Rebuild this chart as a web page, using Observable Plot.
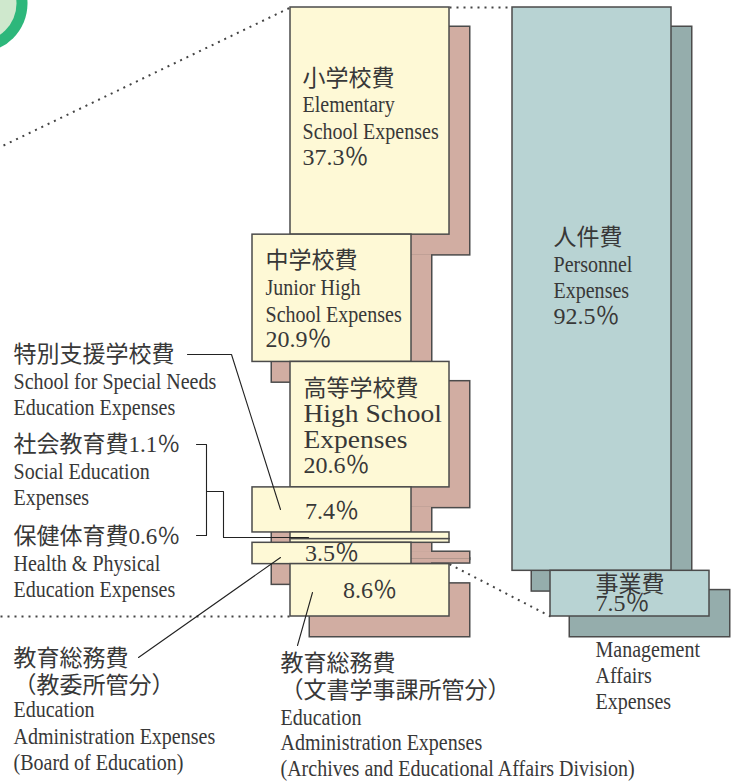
<!DOCTYPE html>
<html>
<head>
<meta charset="utf-8">
<script src="https://cdn.jsdelivr.net/npm/d3@7"></script>
<script src="https://cdn.jsdelivr.net/npm/@observablehq/plot@0.6"></script>
<style>html,body{margin:0;padding:0;background:#fff;overflow:hidden}</style>
</head>
<body>
<div id="chart"></div>
<script>
// ---------- data ----------
const categoriesJa = ["小学校費", "中学校費", "高等学校費", "特別支援学校費", "社会教育費", "保健体育費", "教育総務費\n（教委所管分）", "教育総務費\n（文書学事課所管分）"];
const categoriesEn = [
  "Elementary\nSchool Expenses",
  "Junior High\nSchool Expenses",
  "High School\nExpenses",
  "School for Special Needs\nEducation Expenses",
  "Social Education\nExpenses",
  "Health & Physical\nEducation Expenses",
  "Education\nAdministration Expenses\n(Board of Education)",
  "Education\nAdministration Expenses\n(Archives and Educational Affairs Division)"
];
const shares = [37.3, 20.9, 20.6, 7.4, 1.1, 0.6, 3.5, 8.6];
const natureJa = ["人件費", "事業費"];
const natureEn = ["Personnel\nExpenses", "Management\nAffairs\nExpenses"];
const natureShares = [92.5, 7.5];

// ---------- layout ----------
const W = 738, H = 783;
const TOP = 7, BOTTOM = 616;
const pxPerPct = (BOTTOM - TOP) / 100;
const py = px => (px - TOP) / pxPerPct;
const boxW = 159;
const leftX = [290, 252, 290, 252, 290, 290, 252, 290];
const rightX = [512, 550];
const SH = 20; // shadow offset

const yellow = "#fef9d6", pink = "#d1ada2", teal = "#b8d3d3", tealShadow = "#95adac";
const edge = "#4b4b4b", ink = "#383838";

function stack(vals) {
  let c = 0;
  return vals.map(v => { const y1 = c; c += v; return {y1, y2: c, mid: (y1 + c) / 2}; });
}
const ls = stack(shares), rs = stack(natureShares);
const pct = v => `${v.toFixed(1)}％`;

const bars = [
  ...shares.map((v, i) => ({x1: leftX[i], x2: leftX[i] + boxW, y1: ls[i].y1, y2: ls[i].y2, fill: yellow, shadow: pink})),
  ...natureShares.map((v, i) => ({x1: rightX[i], x2: rightX[i] + boxW, y1: rs[i].y1, y2: rs[i].y2, fill: teal, shadow: tealShadow}))
];

// ---------- labels ----------
const lines = [];
const add = (x, y, text, kind, anchor = "start") => lines.push({x, y, text, kind, anchor});

// inside boxes, offsets (px) from box middle
[
  {i: 0, x: 302, off: [-34.6, -8.6, 18.4, 44.4], en: "en"},
  {i: 1, x: 265, off: [-29.8, -2.8, 24.2, 49.2], en: "en"},
  {i: 2, x: 303, off: [-28.2, -2.2, 23.8, 48.8], en: "wide"}
].forEach(({i, x, off, en}) => {
  const parts = [categoriesJa[i], ...categoriesEn[i].split("\n"), pct(shares[i])];
  const kinds = ["ja", en, en, "pct"];
  parts.forEach((t, k) => add(x, ls[i].mid + off[k] / pxPerPct, t, kinds[k]));
});
[{i: 3, off: 8.6}, {i: 6, off: 8}, {i: 7, off: 7.2}].forEach(({i, off}) =>
  add(leftX[i] + boxW / 2, ls[i].mid + off / pxPerPct, pct(shares[i]), "pct", "middle"));

// outside callout labels, baselines in px
[
  {i: 3, x: 13, base: [361, 388, 414]},
  {i: 4, x: 13, base: [451, 478, 504], withPct: true},
  {i: 5, x: 13, base: [543, 570, 596], withPct: true},
  {i: 6, x: 13, base: [665, 692, 716, 743, 769]},
  {i: 7, x: 280, base: [670, 697, 724, 749, 775]}
].forEach(({i, x, base, withPct}) => {
  const ja = categoriesJa[i].split("\n");
  if (withPct) ja[0] += pct(shares[i]);
  const en = categoriesEn[i].split("\n");
  let k = 0;
  ja.forEach(t => add(x, py(base[k++]), t, "ja"));
  en.forEach(t => add(x, py(base[k++]), t, "en"));
});

// right column
{
  const off = [-43.7, -16.7, 9.3, 35.3];
  const parts = [natureJa[0], ...natureEn[0].split("\n"), pct(natureShares[0])];
  const kinds = ["ja", "en", "en", "pct"];
  parts.forEach((t, k) => add(553, rs[0].mid + off[k] / pxPerPct, t, kinds[k]));
  add(595, rs[1].mid + (-1.5) / pxPerPct, natureJa[1], "ja");
  add(595, rs[1].mid + 17.8 / pxPerPct, pct(natureShares[1]), "pct");
  natureEn[1].split("\n").forEach((t, k) => add(595, rs[1].mid + (63.8 + 26 * k) / pxPerPct, t, "en"));
}

// ---------- annotations ----------
const dotted = [
  {x1: 3, y1: py(145), x2: leftX[0], y2: ls[0].y1},
  {x1: leftX[0] + boxW, y1: ls[0].y1, x2: rightX[0], y2: rs[0].y1},
  {x1: 0, y1: ls[7].y2, x2: leftX[7], y2: ls[7].y2},
  {x1: leftX[7] + boxW, y1: ls[7].y1, x2: rightX[1], y2: rs[1].y2}
];
const callouts = [
  {id: "special", pts: [[187, 354], [231, 354], [280, 509]]},
  {id: "br1", pts: [[196, 444], [206, 444], [206, 535], [196, 535]]},
  {id: "br2", pts: [[206, 491], [223, 491], [223, 537], [308, 537]]},
  {id: "board", pts: [[138, 657], [280, 557]]},
  {id: "archives", pts: [[297, 645], [312, 592]]}
].flatMap(({id, pts}) => pts.map(([x, y]) => ({id, x, y: py(y)})));

const styles = {
  ja:   {fontFamily: "'Liberation Serif','Noto Sans CJK JP',sans-serif", fontSize: 23},
  en:   {fontFamily: "'Liberation Serif',serif", fontSize: 23},
  wide: {fontFamily: "'Liberation Serif',serif", fontSize: 25},
  pct:  {fontFamily: "'Liberation Serif','Noto Sans CJK JP',serif", fontSize: 24}
};
const textMarks = [];
for (const kind of Object.keys(styles)) {
  for (const anchor of ["start", "middle"]) {
    const d = lines.filter(l => l.kind === kind && l.anchor === anchor);
    if (!d.length) continue;
    textMarks.push(Plot.text(d, {
      x: "x", y: "y", text: "text", textAnchor: anchor, lineAnchor: "bottom",
      fill: ink, ...styles[kind], ariaDescription: "txt-" + kind
    }));
  }
}

const plot = Plot.plot({
  width: W, height: H, margin: 0,
  style: {background: "#fff", overflow: "hidden"},
  x: {domain: [0, W], range: [0, W], axis: null},
  y: {domain: [0, 100], range: [TOP, BOTTOM], axis: null},
  marks: [
    Plot.dot([0], {frameAnchor: "top-left", dx: -22, dy: 3, r: 49, fill: "#2db77b"}),
    Plot.dot([0], {frameAnchor: "top-left", dx: -22, dy: 3, r: 38, fill: "#cfe8cd"}),
    Plot.link(dotted, {x1: "x1", y1: "y1", x2: "x2", y2: "y2", stroke: "#444", strokeWidth: 2, strokeDasharray: "2,5"}),
    Plot.rect(bars, {x1: "x1", x2: "x2", y1: "y1", y2: "y2", fill: "shadow", stroke: edge, strokeWidth: 3, dx: SH, dy: SH}),
    Plot.rect(bars, {x1: "x1", x2: "x2", y1: "y1", y2: "y2", fill: "shadow", dx: SH, dy: SH}),
    Plot.rect(bars, {x1: "x1", x2: "x2", y1: "y1", y2: "y2", fill: "fill", stroke: edge, strokeWidth: 1.5}),
    Plot.line(callouts, {x: "x", y: "y", z: "id", stroke: "#222", strokeWidth: 1.1}),
    ...textMarks
  ]
});
document.getElementById("chart").append(plot);

// condense / stretch latin serif text like the original typeface
const factors = {"txt-en": 0.87, "txt-wide": 1.1};
for (const [label, f] of Object.entries(factors)) {
  plot.querySelectorAll(`g[aria-description="${label}"] text`).forEach(t => {
    const L = t.getComputedTextLength();
    t.setAttribute("textLength", (L * f).toFixed(1));
    t.setAttribute("lengthAdjust", "spacingAndGlyphs");
  });
}
</script>
</body>
</html>
